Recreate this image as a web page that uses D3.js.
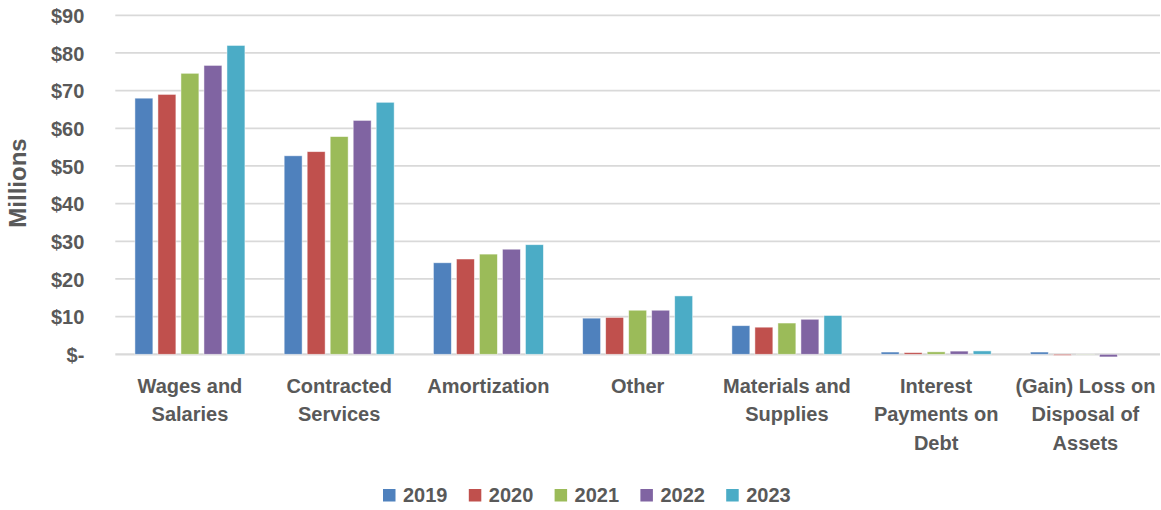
<!DOCTYPE html>
<html>
<head>
<meta charset="utf-8">
<script src="https://cdn.jsdelivr.net/npm/d3@7"></script>
<style>
  body { margin: 0; background: #fff; }
  text { font-family: "Liberation Sans", Arial, sans-serif; font-weight: bold; fill: #595959; }
</style>
</head>
<body>
<svg id="chart" width="1161" height="510"></svg>
<script>
// categories and series (millions of dollars)
const categories = [
    ["Wages and", "Salaries"],
    ["Contracted", "Services"],
    ["Amortization"],
    ["Other"],
    ["Materials and", "Supplies"],
    ["Interest", "Payments on", "Debt"],
    ["(Gain) Loss on", "Disposal of", "Assets"]
];
const years = ["2019", "2020", "2021", "2022", "2023"];
const v2019 = [68.0, 52.7, 24.3, 9.6, 7.6, 0.6, 0.6];
const v2020 = [69.0, 53.8, 25.3, 9.8, 7.2, 0.45, -0.3];
const v2021 = [74.6, 57.8, 26.6, 11.7, 8.3, 0.65, 0.05];
const v2022 = [76.7, 62.1, 27.9, 11.7, 9.3, 0.85, -0.7];
const v2023 = [82.0, 66.9, 29.1, 15.5, 10.3, 0.9, 0];
const yTicks = [0, 10, 20, 30, 40, 50, 60, 70, 80, 90];
const colors = ["#4f81bd", "#c0504d", "#9bbb59", "#8064a2", "#4bacc6"];

const series = [v2019, v2020, v2021, v2022, v2023];

const svg = d3.select("#chart");
let margin = {top: 15.3, right: 1, bottom: 155.7, left: 115.3},
    width = 1161 - margin.left - margin.right,
    height = 510 - margin.top - margin.bottom;

const g = svg.append("g")
    .attr("transform", "translate(" + margin.left + "," + margin.top + ")");

const y = d3.scaleLinear().domain([0, 90]).range([height, 0]);

const x0 = d3.scaleBand()
    .domain(d3.range(categories.length))
    .range([0, width])
    .paddingInner(0.263)
    .paddingOuter(0.1315);

const x1 = d3.scaleBand()
    .domain(years)
    .range([0, x0.bandwidth()])
    .paddingInner(0.22);

// gridlines
g.append("g")
    .selectAll("line")
    .data(yTicks)
    .join("line")
    .attr("x1", 0)
    .attr("x2", width)
    .attr("y1", d => y(d))
    .attr("y2", d => y(d))
    .attr("stroke", "#d9d9d9")
    .attr("stroke-width", d => d === 0 ? 2.2 : 1.8);

// y axis labels
const yAxis = g.append("g")
    .attr("transform", "translate(-28,0)")
    .call(d3.axisLeft(y).tickValues(yTicks).tickSize(0)
        .tickFormat(d => d === 0 ? "$-" : "$" + d));
yAxis.select(".domain").remove();
yAxis.selectAll("text")
    .attr("font-size", "20px")
    .attr("font-family", null)
    .attr("fill", "#595959")
    .attr("dy", "0.36em");

// bars
const groups = g.append("g")
    .selectAll("g")
    .data(categories.map((c, i) => i))
    .join("g")
    .attr("transform", i => "translate(" + x0(i) + ",0)");

groups.selectAll("rect")
    .data(i => years.map((yr, k) => ({year: yr, k: k, value: series[k][i]})))
    .join("rect")
    .attr("x", d => x1(d.year))
    .attr("width", x1.bandwidth())
    .attr("y", d => y(Math.max(0, d.value)))
    .attr("height", d => Math.abs(y(d.value) - y(0)))
    .attr("fill", d => colors[d.k])
    .attr("stroke", "#fff")
    .attr("stroke-opacity", 0.6)
    .attr("stroke-width", 0.8);

// category labels
const catLabels = g.append("g")
    .selectAll("text")
    .data(categories)
    .join("text")
    .attr("text-anchor", "middle")
    .attr("font-size", "20px")
    .attr("transform", (d, i) => "translate(" + (x0(i) + x0.bandwidth() / 2) + "," + (y(0) + 38.7) + ")");

catLabels.selectAll("tspan")
    .data(d => d)
    .join("tspan")
    .attr("x", 0)
    .attr("y", (d, j) => j * 28.3)
    .text(d => d);

// y axis title
svg.append("text")
    .attr("text-anchor", "middle")
    .attr("font-size", "24px")
    .attr("transform", "translate(26,183) rotate(-90)")
    .text("Millions");

// legend
const legend = svg.append("g")
    .attr("transform", "translate(383,0)")
    .selectAll("g")
    .data(years)
    .join("g")
    .attr("transform", (d, i) => "translate(" + (i * 85.8) + ",0)");

legend.append("rect")
    .attr("x", 0)
    .attr("y", 489)
    .attr("width", 12.5)
    .attr("height", 12.5)
    .attr("fill", (d, i) => colors[i]);

legend.append("text")
    .attr("x", 20)
    .attr("y", 501.7)
    .attr("font-size", "20px")
    .text(d => d);
</script>
</body>
</html>
